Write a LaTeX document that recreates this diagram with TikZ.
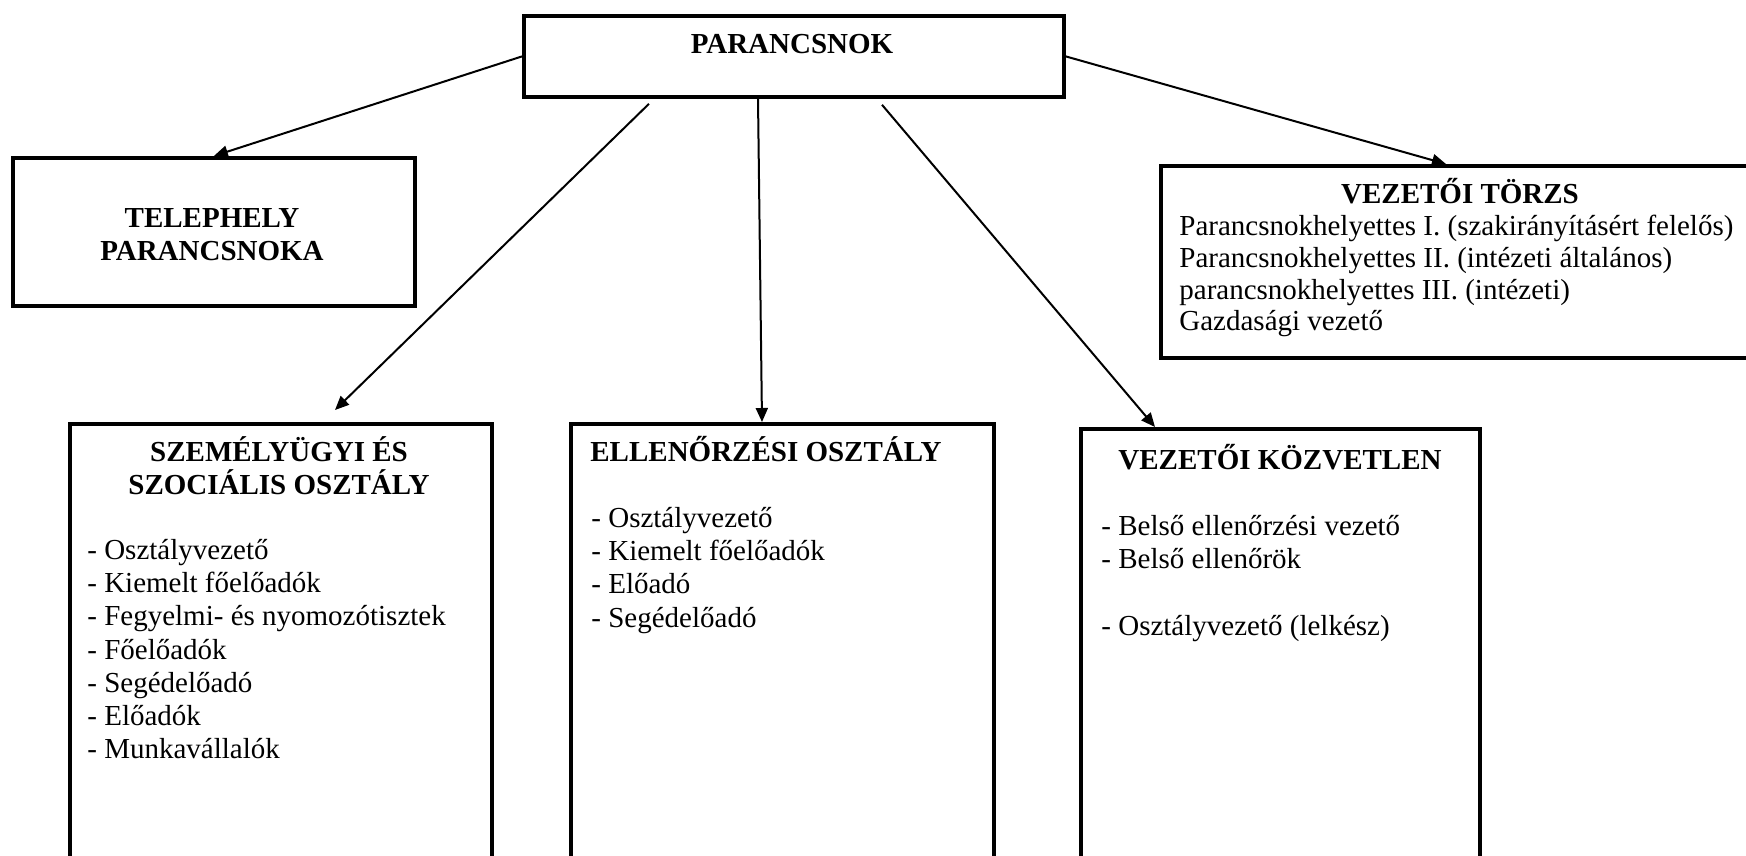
\documentclass[tikz,border=0pt]{standalone}
\usepackage{fontspec}
\setmainfont{Liberation Serif}
\usetikzlibrary{arrows.meta,calc}

\begin{document}
\begin{tikzpicture}[x=0.5pt,y=-0.5pt,
  font=\fontsize{14.5}{16.6}\selectfont,
  unit/.style={draw,line width=1.9pt,inner sep=0pt,anchor=north west},
  head/.style={font=\fontsize{14.5}{16.6}\selectfont\bfseries,inner sep=0pt,align=center},
  items/.style={inner sep=0pt,align=left,anchor=north west},
  link/.style={line width=1pt,-{Triangle[length=7pt,width=6pt]}}]
\useasboundingbox (0,0) rectangle (1746,856);
\clip (0,0) rectangle (1746,856);

% boxes
\node[unit,minimum width=270pt,minimum height=40.5pt] (parancsnok) at (522,14) {};
\node[unit,minimum width=201pt,minimum height=74pt] (telephely) at (11,156) {};
\node[unit,minimum width=350pt,minimum height=96pt] (torzs) at (1159,164) {};
\node[unit,minimum width=211pt,minimum height=250pt] (szemely) at (68,422) {};
\node[unit,minimum width=211.5pt,minimum height=250pt] (ellenor) at (569,422) {};
\node[unit,minimum width=199.5pt,minimum height=250pt] (kozvetlen) at (1079,427) {};

% texts
\node[head,anchor=base] (t-parancsnok) at (792,54) {PARANCSNOK};
\node[head,anchor=north] (t-telephely) at (212,208) {TELEPHELY\\PARANCSNOKA};
\node[head,anchor=base] (t-torzs) at (1460,203) {VEZETŐI TÖRZS};
\node[items,font=\fontsize{14.5}{15.85}\selectfont] (l-torzs) at (1179,215)
  {Parancsnokhelyettes I. (szakirányításért felelős)\\
   Parancsnokhelyettes II. (intézeti általános)\\
   parancsnokhelyettes III. (intézeti)\\
   Gazdasági vezető};

\node[head,anchor=north] (t-szemely) at (279,436) {SZEMÉLYÜGYI ÉS\\SZOCIÁLIS OSZTÁLY};
\node[items] (l-szemely) at (87,539)
  {- Osztályvezető\\- Kiemelt főelőadók\\- Fegyelmi- és nyomozótisztek\\- Főelőadók\\
   - Segédelőadó\\- Előadók\\- Munkavállalók};

\node[head,anchor=base west] (t-ellenor) at (590,461) {ELLENŐRZÉSI OSZTÁLY};
\node[items] (l-ellenor) at (591,507)
  {- Osztályvezető\\- Kiemelt főelőadók\\- Előadó\\- Segédelőadó};

\node[head,anchor=base] (t-kozvetlen) at (1280,469) {VEZETŐI KÖZVETLEN};
\node[items] (l-kozvetlen) at (1101,515)
  {- Belső ellenőrzési vezető\\- Belső ellenőrök\\[16.6pt]- Osztályvezető (lelkész)};

% arrows
\draw[link] (parancsnok.west) -- (telephely.north);
\draw[link] (parancsnok.east) -- ($(torzs.north west)+(287,0)$);
\draw[link] ($(parancsnok.south west)+(127,5)$) -- ($(szemely.north west)+(267,-12)$);
\draw[link] ($(parancsnok.south west)+(236,0)$) -- ($(ellenor.north west)+(193,0)$);
\draw[link] ($(parancsnok.south west)+(360,6)$) -- ($(kozvetlen.north west)+(76,0)$);
\end{tikzpicture}
\end{document}
